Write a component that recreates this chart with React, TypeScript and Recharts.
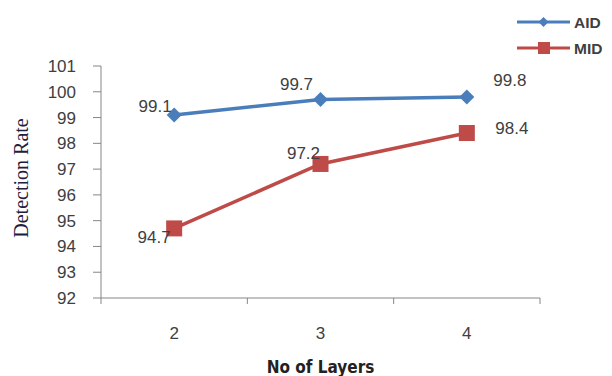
import React from 'react';
import { LineChart, Line, XAxis, YAxis, LabelList } from 'recharts';

const layers = [2, 3, 4];
const aidValues = [99.1, 99.7, 99.8];
const midValues = [94.7, 97.2, 98.4];
const yTicks = [92, 93, 94, 95, 96, 97, 98, 99, 100, 101];
const xTicks = [1.5, 2, 2.5, 3, 3.5, 4, 4.5];

const data = layers.map((l, i) => ({ layer: l, AID: aidValues[i], MID: midValues[i] }));

const BLUE = '#4a7ebb';
const RED = '#be4b48';
const AXIS = '#868686';
const TEXT = '#404040';
const SANS = "'Liberation Sans', Arial, sans-serif";

const aidLabelOffsets = [[-19, -8], [-24, -15], [43, -16]];
const midLabelOffsets = [[-20, 9], [-17, -10], [45, -5]];

const makeLabel = (offsets: number[][]) => (props: any) => {
  const { x, y, index, value } = props;
  const [dx, dy] = offsets[index] || [0, 0];
  return (
    <text x={x + dx} y={y + dy} textAnchor="middle" dominantBaseline="central"
      fontFamily={SANS} fontSize={17} fill={TEXT}>
      {value}
    </text>
  );
};

const Diamond = (props: any) => {
  const { cx, cy } = props;
  const r = 7.5;
  return <path d={`M${cx},${cy - r}L${cx + r},${cy}L${cx},${cy + r}L${cx - r},${cy}Z`} fill={BLUE} />;
};

const Square = (props: any) => {
  const { cx, cy } = props;
  const s = 8;
  return <rect x={cx - s} y={cy - s} width={2 * s} height={2 * s} fill={RED} />;
};

const XTick = (props: any) => {
  const { x, y, payload } = props;
  const v = payload.value;
  if (Number.isInteger(v)) {
    return (
      <text x={x} y={y + 41} textAnchor="middle" fontFamily={SANS} fontSize={17} fill={TEXT}>{v}</text>
    );
  }
  return <line x1={x} y1={y} x2={x} y2={y + 6} stroke={AXIS} strokeWidth={1} />;
};

const LegendBox = () => (
  <svg width={100} height={45} style={{ position: 'absolute', left: 515, top: 15 }}>
    <line x1={2} y1={7} x2={55} y2={7} stroke={BLUE} strokeWidth={3} />
    <path d="M28.5,2L33.5,7L28.5,12L23.5,7Z" fill={BLUE} />
    <text x={59} y={13} fontFamily={SANS} fontWeight="bold" fontSize={15.5} fill={TEXT}>AID</text>
    <line x1={2} y1={33} x2={55} y2={33} stroke={RED} strokeWidth={3} />
    <rect x={23} y={27} width={12} height={12} fill={RED} />
    <text x={59} y={39} fontFamily={SANS} fontWeight="bold" fontSize={15.5} fill={TEXT}>MID</text>
  </svg>
);

export default function App() {
  return (
    <div style={{ position: 'absolute', left: 0, top: 0, width: 612, height: 376, background: '#fff' }}>
      <LineChart width={612} height={376} data={data}
        margin={{ top: 66, right: 72, left: 0, bottom: 0 }}>
        <XAxis dataKey="layer" type="number" domain={[1.5, 4.5]} ticks={xTicks}
          height={78} stroke={AXIS} tickLine={false} tickSize={0} tickMargin={0}
          tick={<XTick />} interval={0}
          label={(p: any) => {
            const vb = p.viewBox;
            return (
              <text x={vb.x + vb.width / 2} y={vb.y + 75} textAnchor="middle"
                fontFamily="'DejaVu Sans Condensed', 'Liberation Sans', sans-serif" fontWeight="bold"
                fontSize={17} fill="#222">No of Layers</text>
            );
          }} />
        <YAxis domain={[92, 101]} ticks={yTicks} width={101} stroke={AXIS}
          tickSize={8} tickMargin={17} interval={0}
          tick={{ fontFamily: SANS, fontSize: 17, fill: TEXT }}
          label={() => (
            <text x={0} y={0} transform="translate(28,178) rotate(-90)" textAnchor="middle"
              fontFamily="'Liberation Serif', 'Times New Roman', serif" fontSize={20} fill="#1f2040">
              Detection Rate
            </text>
          )} />
        <Line type="linear" dataKey="AID" stroke={BLUE} strokeWidth={3.5} dot={<Diamond />}
          activeDot={false} isAnimationActive={false}>
          <LabelList dataKey="AID" content={makeLabel(aidLabelOffsets)} />
        </Line>
        <Line type="linear" dataKey="MID" stroke={RED} strokeWidth={3.5} dot={<Square />}
          activeDot={false} isAnimationActive={false}>
          <LabelList dataKey="MID" content={makeLabel(midLabelOffsets)} />
        </Line>
      </LineChart>
      <LegendBox />
    </div>
  );
}
